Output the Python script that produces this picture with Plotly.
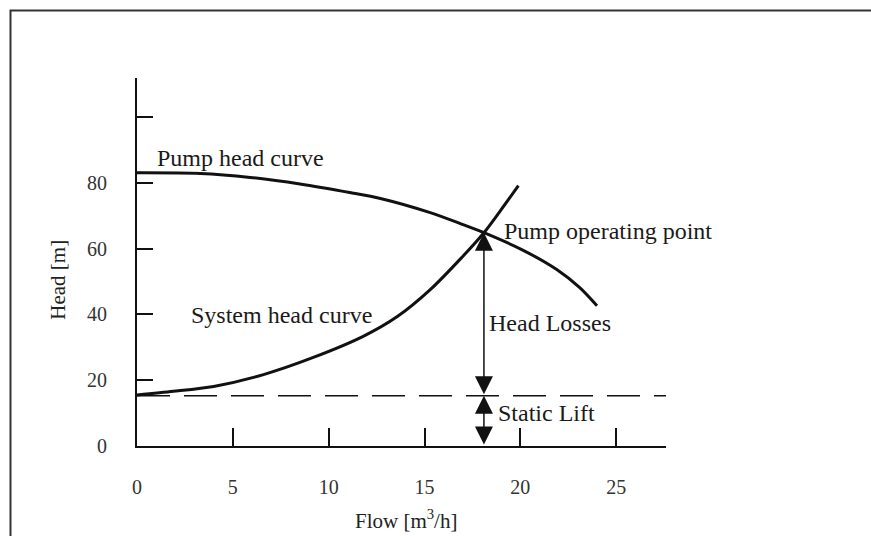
import plotly.graph_objects as go

# ---- data ----
flow_pump = [0, 3.3, 5.9, 8.5, 11.1, 12.7, 15.3, 16.9, 18.1, 20.1, 21.9, 23.1, 24.0]
head_pump = [83.0, 82.8, 81.6, 79.6, 77.0, 75.2, 70.9, 67.5, 64.8, 59.6, 53.6, 48.1, 42.6]

flow_system = [0, 1.9, 4.0, 6.6, 9.2, 11.8, 13.6, 15.3, 16.9, 18.1, 18.9, 19.9]
head_system = [15.5, 16.6, 18.1, 21.7, 26.9, 33.3, 39.4, 47.5, 57.0, 64.8, 71.0, 79.1]

static_lift = 15.3
op_flow = 18.1
op_head = 64.8

x_tickvals = [0, 5, 10, 15, 20, 25]
x_ticktext = ["0", "5", "10", "15", "20", "25"]
y_tickvals = [0, 20, 40, 60, 80, 100]
y_ticktext = ["0", "20", "40", "60", "80", ""]

x_range = [0, 27.6]
y_range = [0, 111.8]

SERIF = "Liberation Serif"
INK = "#111111"

fig = go.Figure()

# static lift dashed line
fig.add_trace(go.Scatter(
    x=x_range, y=[static_lift, static_lift], mode="lines",
    line=dict(color=INK, width=1.5, dash="33px,14px"), hoverinfo="skip"))

# pump head curve
fig.add_trace(go.Scatter(
    x=flow_pump, y=head_pump, mode="lines",
    line=dict(color=INK, width=3, shape="spline", smoothing=0.8), hoverinfo="skip"))

# system head curve
fig.add_trace(go.Scatter(
    x=flow_system, y=head_system, mode="lines",
    line=dict(color=INK, width=3, shape="spline", smoothing=0.8), hoverinfo="skip"))

arrow_common = dict(
    showarrow=True, text="", axref="x", ayref="y", xref="x", yref="y",
    arrowside="end+start", arrowhead=2, startarrowhead=2,
    arrowsize=2.4, startarrowsize=2.4, arrowwidth=1.5, arrowcolor=INK,
    standoff=0, startstandoff=0)

# head losses arrow
fig.add_annotation(x=op_flow, y=op_head, ax=op_flow, ay=static_lift, **arrow_common)
# static lift arrow
fig.add_annotation(x=op_flow, y=static_lift, ax=op_flow, ay=0, **arrow_common)

label_font = dict(family=SERIF, size=24, color="#1a1a1a")
labels = [
    ("Pump head curve", 0.94, 87.5),
    ("System head curve", 2.71, 39.9),
    ("Pump operating point", 19.04, 65.4),
    ("Head Losses", 18.26, 37.5),
    ("Static Lift", 18.73, 9.9),
]
for txt, lx, ly in labels:
    fig.add_annotation(x=lx, y=ly, xref="x", yref="y", text=txt, showarrow=False,
                       xanchor="left", yanchor="middle", font=label_font)

W, H = 871, 536
L, R, T, B = 137, 666, 78, 446.5
pw, ph = R - L, B - T

def px_to_paper(px, py):
    return (px - L) / pw, (B - py) / ph

tx, ty = px_to_paper(406, 520)
fig.add_annotation(x=tx, y=ty, xref="paper", yref="paper", text="Flow [m<sup>3</sup>/h]",
                   showarrow=False, xanchor="center", yanchor="middle",
                   font=dict(family=SERIF, size=21, color="#222222"))
tx, ty = px_to_paper(58, 280)
fig.add_annotation(x=tx, y=ty, xref="paper", yref="paper", text="Head [m]", textangle=-90,
                   showarrow=False, xanchor="center", yanchor="middle",
                   font=dict(family=SERIF, size=21, color="#222222"))

# outer frame
x0, y0 = px_to_paper(10.5, 10.5)
x1, y1 = px_to_paper(880, 545)
fig.add_shape(type="rect", xref="paper", yref="paper", x0=x0, y0=y1, x1=x1, y1=y0,
              line=dict(color="#333333", width=2), fillcolor="rgba(0,0,0,0)", layer="below")

axis_common = dict(showline=True, linecolor=INK, linewidth=2, showgrid=False, zeroline=False,
                   ticks="inside", tickcolor=INK, tickwidth=1.5,
                   tickfont=dict(family=SERIF, size=20, color="#333333"))

fig.update_layout(
    width=W, height=H,
    margin=dict(l=L, r=W - R, t=T, b=H - B, pad=0),
    paper_bgcolor="white", plot_bgcolor="white",
    showlegend=False, hovermode=False,
    xaxis=dict(range=x_range, tickvals=x_tickvals, ticktext=x_ticktext,
               ticklen=18, ticklabelstandoff=22, **axis_common),
    yaxis=dict(range=y_range, tickvals=y_tickvals, ticktext=y_ticktext,
               ticklen=16, ticklabelstandoff=24, **axis_common),
)

fig.write_html("out.html", config={"displayModeBar": False})
